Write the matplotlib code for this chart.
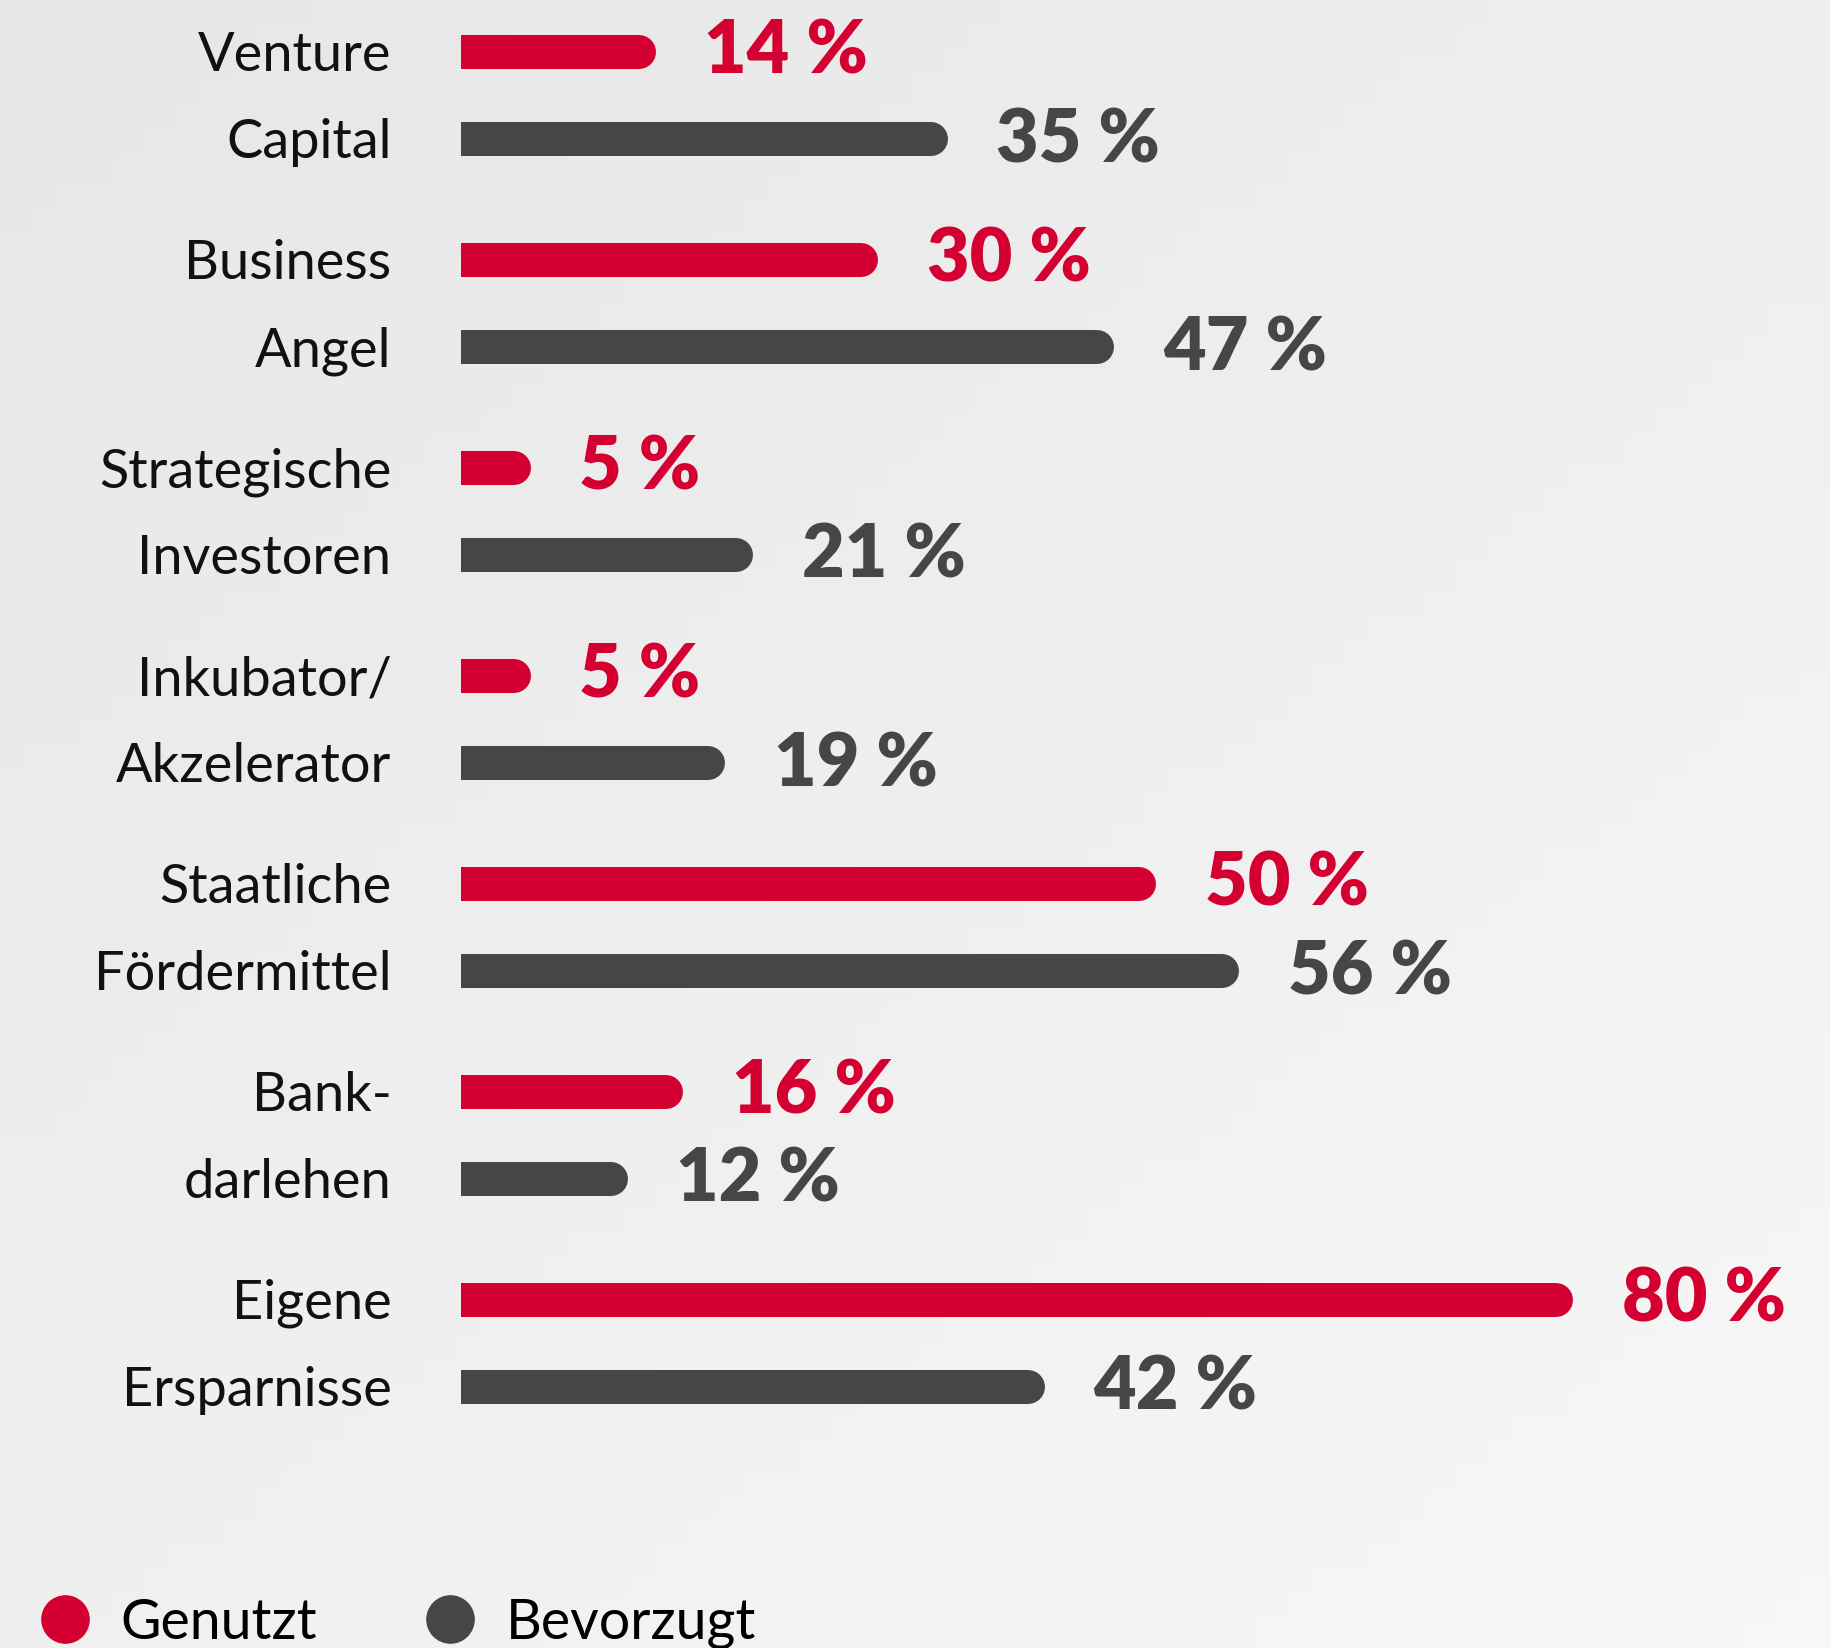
import numpy as np
import matplotlib.pyplot as plt
from matplotlib.lines import Line2D

# --- data ---
labels_top = ["Venture", "Business", "Strategische", "Inkubator/", "Staatliche", "Bank-", "Eigene"]
labels_bottom = ["Capital", "Angel", "Investoren", "Akzelerator", "Fördermittel", "darlehen", "Ersparnisse"]
genutzt = [14, 30, 5, 5, 50, 16, 80]
bevorzugt = [35, 47, 21, 19, 56, 12, 42]

RED = "#d40032"
DARK = "#464646"
W, H = 1830, 1648
X0 = 461          # pixel where bars start
PX_PER_PCT = 13.9
BAR_PX = 34
GROUP_STEP = 208
PAIR_OFF = 87
FIRST_Y = 52

plt.rcParams['font.family'] = ['Lato', 'DejaVu Sans']

fig = plt.figure(figsize=(W / 100, H / 100), dpi=100)
ax = fig.add_axes([0, 0, 1, 1])
xlim = (-X0 / PX_PER_PCT, (W - X0) / PX_PER_PCT)

# soft grey background, a little lighter towards the bottom right
gx = np.linspace(0, 1, 64)[None, :]
gy = np.linspace(0, 1, 64)[:, None]
shade = 0.905 + 0.03 * gx + 0.035 * gy
bg = np.dstack([shade, shade, shade])
ax.imshow(bg, aspect='auto', extent=[xlim[0], xlim[1], H, 0], zorder=0)
ax.set_xlim(*xlim)
ax.set_ylim(H, 0)
ax.axis('off')

lw = BAR_PX * 72 / 100
r = BAR_PX / 2 / PX_PER_PCT  # cap radius in % units


def draw_bar(y, v, color):
    # rounded right end, square left end
    ax.plot([r, v - r], [y, y], color=color, lw=lw, solid_capstyle='round', zorder=2)
    ax.plot([0, v - r], [y, y], color=color, lw=lw, solid_capstyle='butt', zorder=2)


for i in range(len(genutzt)):
    y_red = FIRST_Y + i * GROUP_STEP
    y_dark = y_red + PAIR_OFF
    draw_bar(y_red, genutzt[i], RED)
    draw_bar(y_dark, bevorzugt[i], DARK)
    ax.text(-5.0, y_red + 19, labels_top[i], ha='right', va='baseline',
            fontsize=39, color='#111111')
    ax.text(-5.0, y_dark + 19, labels_bottom[i], ha='right', va='baseline',
            fontsize=39, color='#111111')
    ax.text(genutzt[i] + 3.5, y_red + 21, f"{genutzt[i]} %", ha='left', va='baseline',
            fontsize=53, color=RED, fontweight='heavy')
    ax.text(bevorzugt[i] + 3.5, y_dark + 23, f"{bevorzugt[i]} %", ha='left', va='baseline',
            fontsize=53, color=DARK, fontweight='heavy')

handles = [Line2D([], [], marker='o', ls='none', color=RED, markersize=34),
           Line2D([], [], marker='o', ls='none', color=DARK, markersize=34)]
ax.legend(handles, ["Genutzt", "Bevorzugt"], loc='lower left', bbox_to_anchor=(-0.007, -0.031),
          ncol=2, frameon=False, prop={'size': 40},
          handletextpad=0.5, columnspacing=1.9, handlelength=1.0)

fig.savefig("out.png", dpi=100)
